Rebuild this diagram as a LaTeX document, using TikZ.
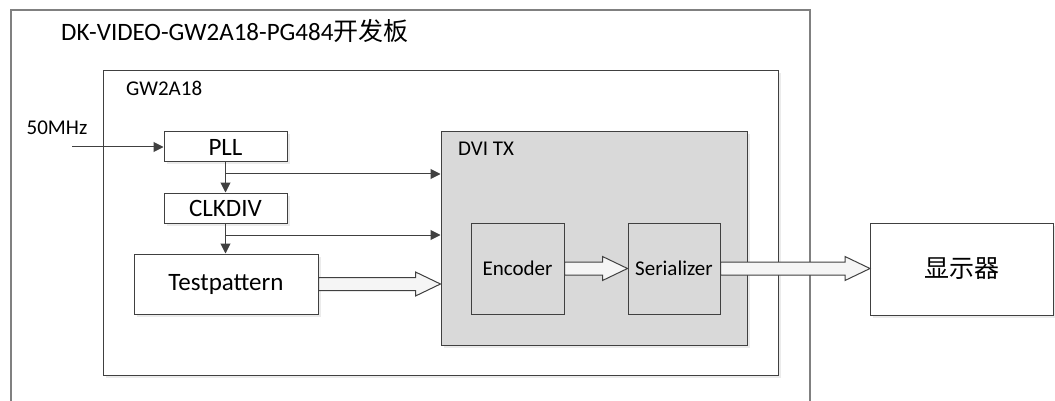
\documentclass[tikz,border=0pt]{standalone}
\usepackage{fontspec}
\setmainfont{Carlito}
\newfontfamily\cjk{Noto Sans CJK SC}
\usetikzlibrary{arrows.meta,calc,shadows}
\definecolor{lineC}{HTML}{404040}
\definecolor{dviC}{HTML}{D9D9D9}
\definecolor{boardC}{HTML}{808080}
\tikzset{
  small/.style={font=\fontsize{21}{25}\selectfont},
  big/.style={font=\fontsize{25}{30}\selectfont},
  shad/.style={drop shadow={shadow xshift=2.5pt,shadow yshift=-2.5pt,fill=black,opacity=0.08}},
  blockbox/.style={draw=lineC,line width=1pt,fill=white,inner sep=0pt,shad,text=black},
  thin/.style={draw=lineC,line width=1pt,-{Triangle[length=10pt,width=10pt]}},
  fatline/.style={draw=lineC,line width=1pt,fill=black!4,line join=miter},
}
\newcommand\fatarr[2]{%
  \draw[fatline] let \p1=(#1), \p2=(#2) in
    (\x1,\y1+6.5pt) -- (\x2-25pt,\y1+6.5pt) -- (\x2-25pt,\y1+12pt) -- (\x2,\y1)
    -- (\x2-25pt,\y1-12pt) -- (\x2-25pt,\y1-6.5pt) -- (\x1,\y1-6.5pt) -- cycle;}
\begin{document}
\begin{tikzpicture}[x=1pt,y=-1pt]
\useasboundingbox[fill=white] (0,0) rectangle (1055,401);
% board
\node[draw=boardC,line width=1.5pt,minimum width=799pt,minimum height=410pt,inner sep=0pt] (board) at (410.5,215) {};
\node[big,anchor=west,inner sep=0pt] (title) at (61,31) {DK-VIDEO-GW2A18-PG484{\cjk 开发板}};
% chip
\node[blockbox,minimum width=675pt,minimum height=304pt] (chip) at (440.5,223) {};
\node[small,anchor=west,inner sep=0pt] (chiplbl) at (126,88) {GW2A18};
% blocks
\node[blockbox,big,minimum width=123pt,minimum height=30pt] (pll) at (225.5,147) {PLL};
\node[blockbox,big,minimum width=123pt,minimum height=30pt] (clkdiv) at (225.5,208) {CLKDIV};
\node[blockbox,big,minimum width=184pt,minimum height=60pt] (tp) at (226,284) {Testpattern};
\node[blockbox,fill=dviC,minimum width=306pt,minimum height=213pt] (dvi) at (594,238.5) {};
\node[small,anchor=west,inner sep=0pt] (dvilbl) at (458,149) {DVI TX};
\node[draw=lineC,line width=1pt,fill=dviC,inner sep=0pt,small,minimum width=93pt,minimum height=91pt] (enc) at (517.5,268.5) {Encoder};
\node[draw=lineC,line width=1pt,fill=dviC,inner sep=0pt,small,minimum width=92pt,minimum height=91pt] (ser) at (674,268.5) {Serializer};
\node[blockbox,big,minimum width=183pt,minimum height=92pt] (disp) at (962,269) {\cjk 显示器};
% clock input
\node[small,inner sep=0pt] (clklbl) at (57,128) {50MHz};
\coordinate (clkin) at (72,147);
\draw[thin] (clkin) -- (pll.west);
\draw[thin] (pll.south) -- (clkdiv.north);
\draw[thin] (clkdiv.south) -- (clkdiv.south |- tp.north);
\coordinate (b1) at (225.5,174);
\coordinate (b2) at (225.5,235);
\draw[thin] (b1) -- (b1 -| dvi.west);
\draw[thin] (b2) -- (b2 -| dvi.west);
% fat arrows
\fatarr{tp.east}{dvi.west |- tp.east}
\fatarr{enc.east}{ser.west}
\fatarr{ser.east}{disp.west}
\end{tikzpicture}
\end{document}
